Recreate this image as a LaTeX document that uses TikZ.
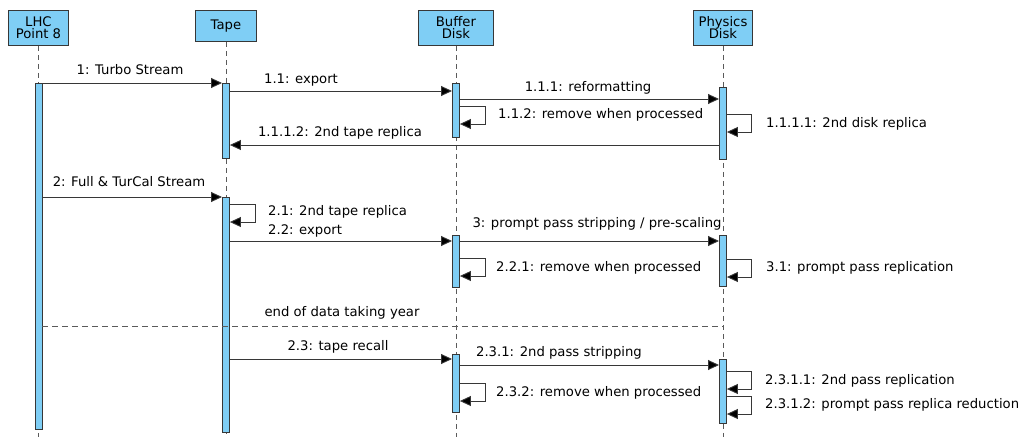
\documentclass[tikz,border=0pt]{standalone}
\usepackage{fontspec}
\setmainfont{DejaVu Sans}
\usetikzlibrary{arrows.meta}
\definecolor{actfill}{RGB}{127,206,245}
\definecolor{edgegray}{RGB}{55,55,55}
\definecolor{lifegray}{RGB}{90,90,90}
\begin{document}
\begin{tikzpicture}[x=1pt,y=-1pt,
  font=\fontsize{13.2}{15}\selectfont,
  head/.style={draw=edgegray,fill=actfill,line width=0.9pt,inner sep=0pt,align=center,anchor=north west},
  act/.style={draw=edgegray,fill=actfill,line width=0.9pt,inner sep=0pt,minimum width=7,anchor=north},
  life/.style={draw=lifegray,line width=0.8pt,dash pattern=on 5pt off 4pt},
  msg/.style={draw=edgegray,line width=0.9pt,-{Triangle[length=11pt,width=10pt,fill=black]}},
  lbl/.style={inner sep=0pt,text=black},
  sep/.style={draw=lifegray,line width=1pt,dash pattern=on 6pt off 4pt}]
\useasboundingbox (0,0) rectangle (1032,439);
% headers
\node[head,minimum width=60,minimum height=35] (lhc) at (8,10) {LHC\\[-3pt]Point 8};
\node[head,minimum width=61,minimum height=31] (tape) at (195,10) {Tape};
\node[head,minimum width=75,minimum height=35] (buf) at (418,10) {Buffer\\[-3pt]Disk};
\node[head,minimum width=59,minimum height=35] (phys) at (693,10) {Physics\\[-3pt]Disk};
% lifelines
\coordinate (lhcEnd) at (lhc.south |- 0,437);
\coordinate (tapeEnd) at (tape.south |- 0,437);
\coordinate (bufEnd) at (buf.south |- 0,437);
\coordinate (physEnd) at (phys.south |- 0,437);
\draw[life] (lhc.south) -- (lhcEnd);
\draw[life] (tape.south) -- (tapeEnd);
\draw[life] (buf.south) -- (bufEnd);
\draw[life] (phys.south) -- (physEnd);
% activation bars
\node[act,minimum height=346] (lhcA) at (lhc.south |- 0,83) {};
\node[act,minimum height=75] (tapeA1) at (tape.south |- 0,83) {};
\node[act,minimum height=235] (tapeA2) at (tape.south |- 0,197) {};
\node[act,minimum height=54] (bufA1) at (buf.south |- 0,83) {};
\node[act,minimum height=52] (bufA2) at (buf.south |- 0,235) {};
\node[act,minimum height=58] (bufA3) at (buf.south |- 0,354) {};
\node[act,minimum height=72] (physA1) at (phys.south |- 0,87) {};
\node[act,minimum height=51] (physA2) at (phys.south |- 0,235) {};
\node[act,minimum height=64] (physA3) at (phys.south |- 0,359) {};
% messages
\draw[msg] (lhcA.east |- 0,83) -- (tapeA1.west |- 0,83);
\node[lbl] (m1) at (130,70) {1: Turbo Stream};
\draw[msg] (tapeA1.east |- 0,91) -- (bufA1.west |- 0,91);
\node[lbl] (m11) at (301,80) {1.1: export};
\draw[msg] (bufA1.east |- 0,99) -- (physA1.west |- 0,99);
\node[lbl] (m111) at (588,88) {1.1.1: reformatting};
\draw[msg] (bufA1.east |- 0,106) -- ++(26,0) |- (bufA1.east |- 0,124);
\node[lbl,anchor=west] (m112) at (498,115) {1.1.2: remove when processed};
\draw[msg] (physA1.east |- 0,114) -- ++(25,0) |- (physA1.east |- 0,132);
\node[lbl,anchor=west] (m1111) at (766,124) {1.1.1.1: 2nd disk replica};
\draw[msg] (physA1.west |- 0,145) -- (tapeA1.east |- 0,145);
\node[lbl] (m1112) at (340,133) {1.1.1.2: 2nd tape replica};
\draw[msg] (lhcA.east |- 0,197) -- (tapeA2.west |- 0,197);
\node[lbl] (m2) at (129,182) {2: Full \& TurCal Stream};
\draw[msg] (tapeA2.east |- 0,204) -- ++(26,0) |- (tapeA2.east |- 0,222);
\node[lbl,anchor=west] (m21) at (268,212) {2.1: 2nd tape replica};
\draw[msg] (tapeA2.east |- 0,241) -- (bufA2.west |- 0,241);
\node[lbl,anchor=west] (m22) at (268,231) {2.2: export};
\draw[msg] (bufA2.east |- 0,241) -- (physA2.west |- 0,241);
\node[lbl] (m3) at (597,224) {3: prompt pass stripping / pre-scaling};
\draw[msg] (bufA2.east |- 0,258) -- ++(26,0) |- (bufA2.east |- 0,276);
\node[lbl,anchor=west] (m221) at (496,268) {2.2.1: remove when processed};
\draw[msg] (physA2.east |- 0,259) -- ++(25,0) |- (physA2.east |- 0,277);
\node[lbl,anchor=west] (m31) at (766,268) {3.1: prompt pass replication};
% separator
\draw[sep] (lhcA.east |- 0,326) -- (phys.south |- 0,326);
\node[lbl] (eoy) at (342,313) {end of data taking year};
\draw[msg] (tapeA2.east |- 0,359) -- (bufA3.west |- 0,359);
\node[lbl] (m23) at (338,347) {2.3: tape recall};
\draw[msg] (bufA3.east |- 0,365) -- (physA3.west |- 0,365);
\node[lbl] (m231) at (559,353) {2.3.1: 2nd pass stripping};
\draw[msg] (bufA3.east |- 0,383) -- ++(26,0) |- (bufA3.east |- 0,401);
\node[lbl,anchor=west] (m232) at (496,393) {2.3.2: remove when processed};
\draw[msg] (physA3.east |- 0,371) -- ++(25,0) |- (physA3.east |- 0,389);
\node[lbl,anchor=west] (m2311) at (765,381) {2.3.1.1: 2nd pass replication};
\draw[msg] (physA3.east |- 0,396) -- ++(25,0) |- (physA3.east |- 0,414);
\node[lbl,anchor=west] (m2312) at (765,405) {2.3.1.2: prompt pass replica reduction};
\end{tikzpicture}
\end{document}
